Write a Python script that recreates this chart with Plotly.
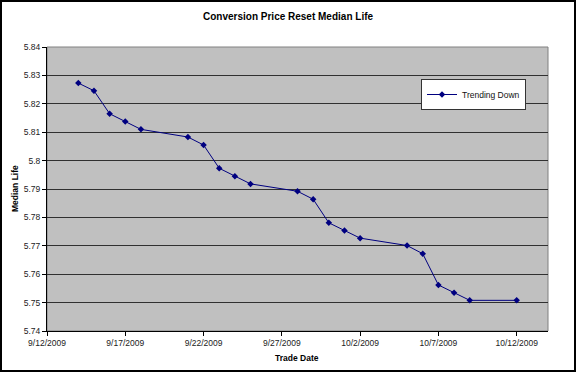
import plotly.graph_objects as go

dates = ["2009-09-14", "2009-09-15", "2009-09-16", "2009-09-17", "2009-09-18",
         "2009-09-21", "2009-09-22", "2009-09-23", "2009-09-24", "2009-09-25",
         "2009-09-28", "2009-09-29", "2009-09-30", "2009-10-01", "2009-10-02",
         "2009-10-05", "2009-10-06", "2009-10-07", "2009-10-08", "2009-10-09",
         "2009-10-12"]
median_life = [5.8273, 5.8246, 5.8165, 5.8138, 5.8110,
               5.8083, 5.8055, 5.7973, 5.7945, 5.7918,
               5.7892, 5.7864, 5.7781, 5.7754, 5.7727,
               5.7701, 5.7672, 5.7562, 5.7535, 5.7508,
               5.7508]
x_tick_vals = ["2009-09-12", "2009-09-17", "2009-09-22", "2009-09-27",
               "2009-10-02", "2009-10-07", "2009-10-12"]
x_tick_text = ["9/12/2009", "9/17/2009", "9/22/2009", "9/27/2009",
               "10/2/2009", "10/7/2009", "10/12/2009"]
y_tick_vals = [5.74, 5.75, 5.76, 5.77, 5.78, 5.79, 5.80, 5.81, 5.82, 5.83, 5.84]
y_tick_text = ["5.74", "5.75", "5.76", "5.77", "5.78", "5.79", "5.8", "5.81",
               "5.82", "5.83", "5.84"]

FONT = "Liberation Sans, Arial, sans-serif"

fig = go.Figure()
fig.add_trace(go.Scatter(
    x=dates, y=median_life, mode="lines+markers", name="Trending Down",
    line=dict(color="#000080", width=1),
    marker=dict(symbol="diamond", size=5, color="#000080"),
))

W, H = 576, 373
L, R, T, B = 47, 28, 47, 42
pw, ph = W - L - R, H - T - B

def px(x):
    return (x - L) / pw

def py(y):
    return (H - B - y) / ph

fig.update_layout(
    width=W, height=H,
    margin=dict(l=L, r=R, t=T, b=B, pad=0),
    paper_bgcolor="white",
    plot_bgcolor="#C0C0C0",
    font=dict(family=FONT, size=8.5, color="#222222"),
    showlegend=True,
    legend=dict(
        x=px(421), y=py(79), xanchor="left", yanchor="top",
        bgcolor="white", bordercolor="#333333", borderwidth=1,
        font=dict(family=FONT, size=8.5, color="#111111"),
        itemwidth=30, tracegroupgap=0,
    ),
    xaxis=dict(
        type="date",
        range=["2009-09-12", "2009-10-14"],
        tickvals=x_tick_vals, ticktext=x_tick_text,
        showgrid=False, zeroline=False,
        showline=True, linecolor="black", linewidth=1,
        ticks="outside", ticklen=4, tickcolor="black",
        tickfont=dict(family=FONT, size=8.5, color="#222222"),
        mirror=False,
    ),
    yaxis=dict(
        range=[5.74, 5.84],
        tickvals=y_tick_vals, ticktext=y_tick_text,
        showgrid=True, gridcolor="#303030", gridwidth=1,
        zeroline=False,
        showline=True, linecolor="black", linewidth=1,
        ticks="outside", ticklen=4, tickcolor="black",
        tickfont=dict(family=FONT, size=8.5, color="#222222"),
    ),
    shapes=[
        dict(type="rect", xref="paper", yref="paper", x0=0, x1=1, y0=0, y1=1,
             line=dict(color="#808080", width=1), layer="below"),
        dict(type="rect", xref="paper", yref="paper",
             x0=px(1), x1=px(575), y0=py(371), y1=py(1),
             line=dict(color="black", width=2)),
    ],
    annotations=[
        dict(text="<b>Conversion Price Reset Median Life</b>", xref="paper", yref="paper",
             x=px(288), y=py(16), xanchor="center", yanchor="middle", showarrow=False,
             font=dict(family=FONT, size=10, color="black")),
        dict(text="<b>Trade Date</b>", xref="paper", yref="paper",
             x=px(297), y=py(358), xanchor="center", yanchor="middle", showarrow=False,
             font=dict(family=FONT, size=8.5, color="black")),
        dict(text="<b>Median Life</b>", xref="paper", yref="paper",
             x=px(15), y=py(189), xanchor="center", yanchor="middle", showarrow=False,
             textangle=-90, font=dict(family=FONT, size=8.5, color="black")),
    ],
)

fig.write_html("out.html", config={"displayModeBar": False},
               post_script="document.body.style.margin='0';document.body.style.padding='0';")
